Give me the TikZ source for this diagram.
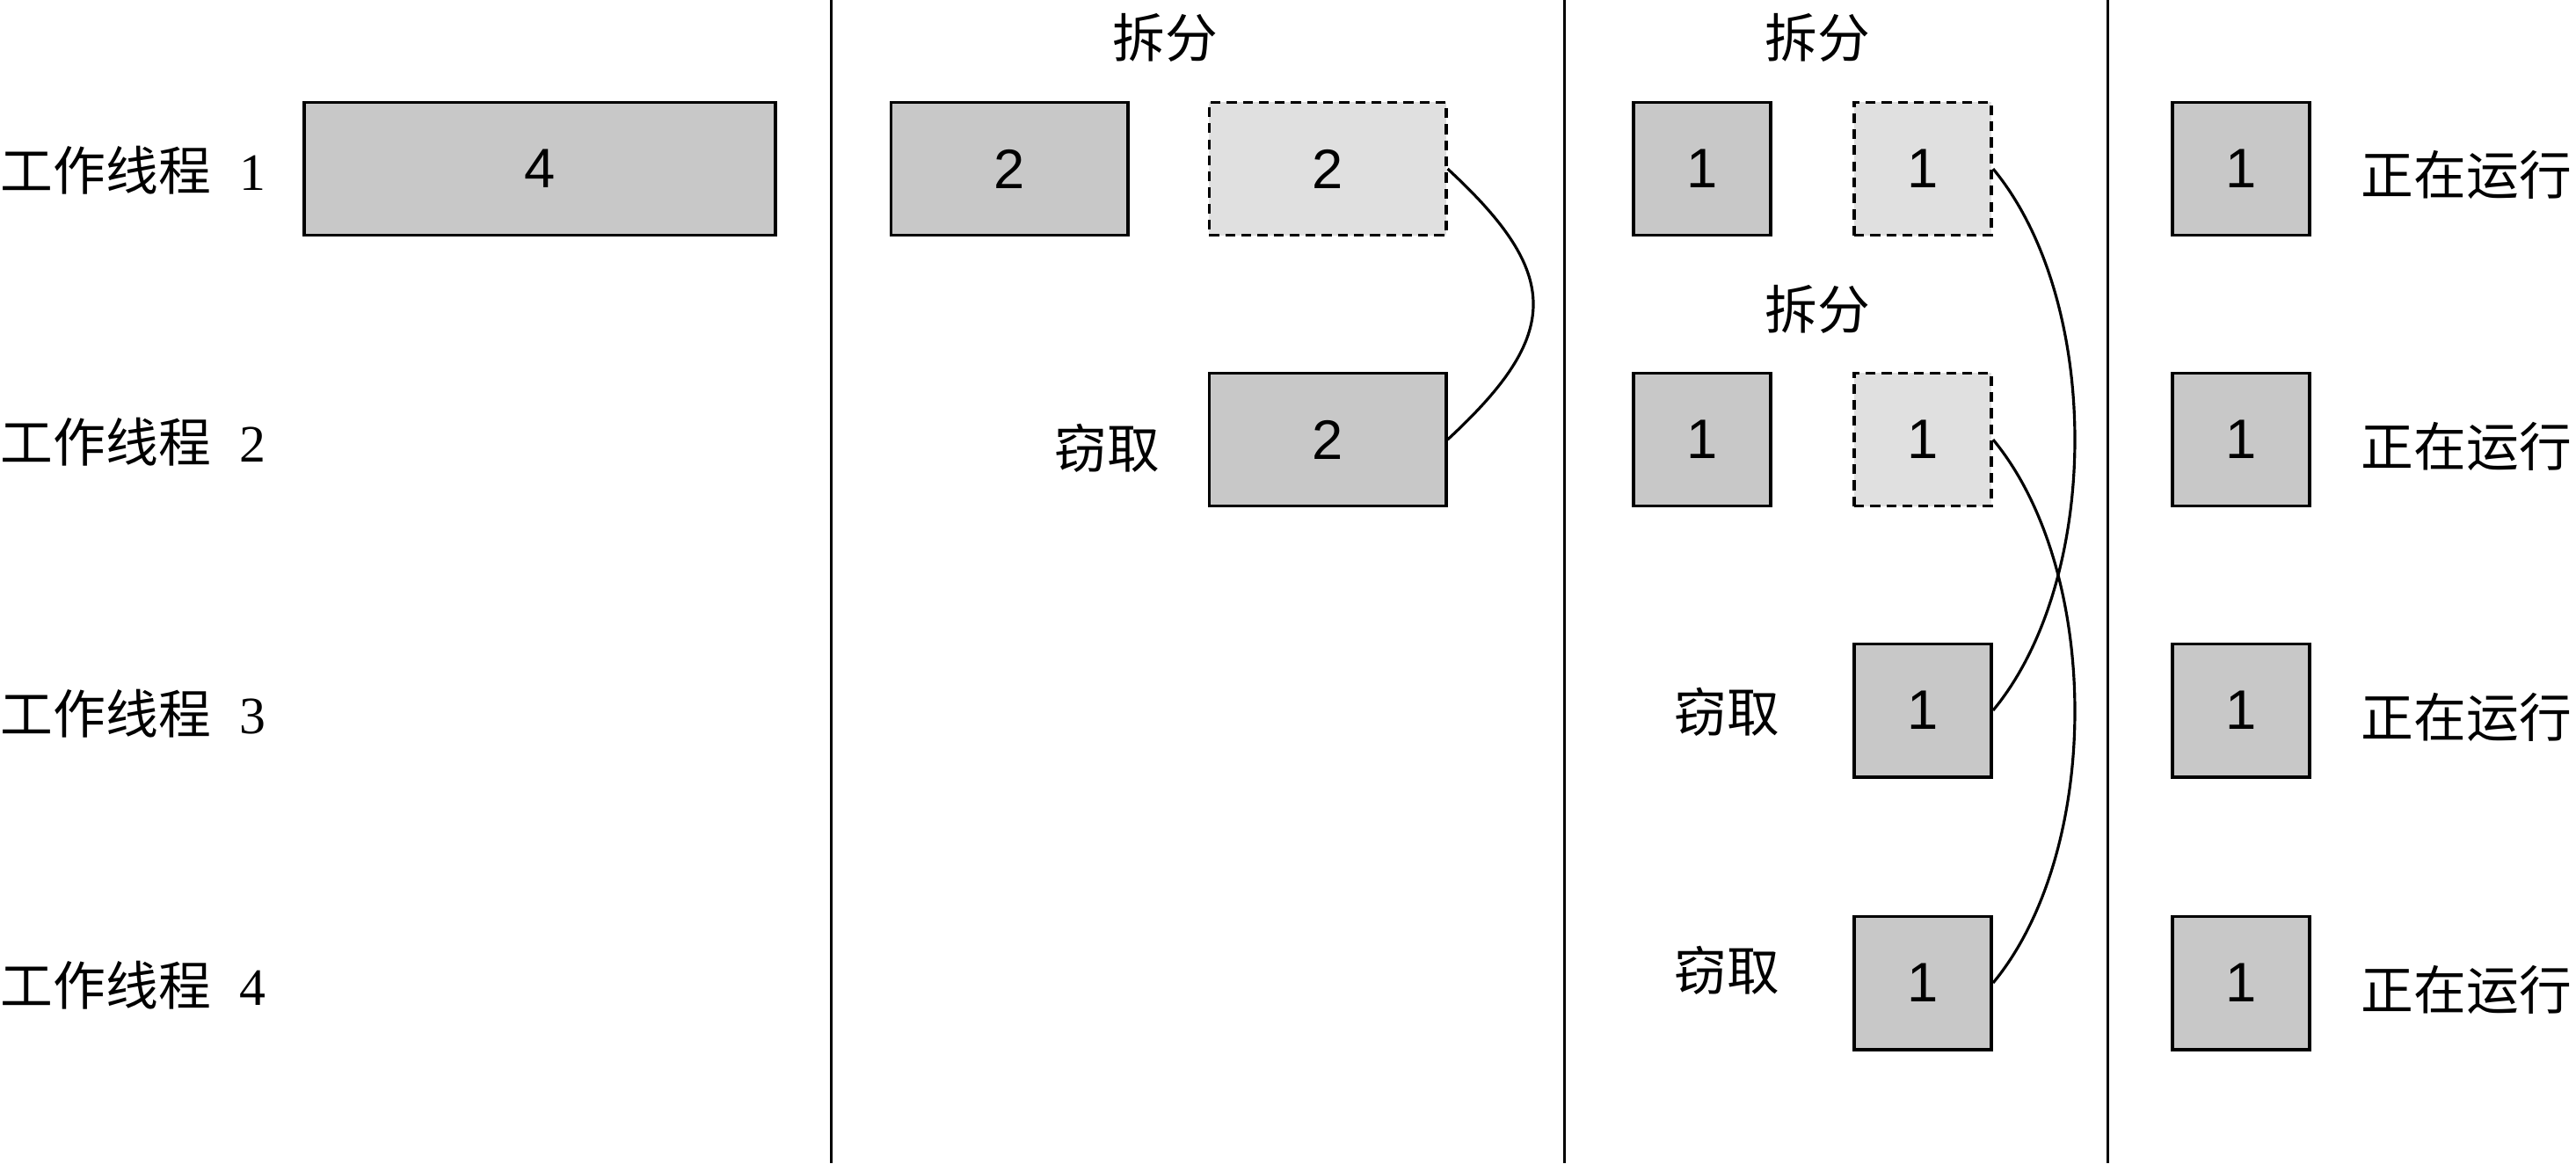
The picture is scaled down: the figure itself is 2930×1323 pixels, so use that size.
\documentclass[tikz,border=0pt]{standalone}
\usepackage{fontspec}
\setmainfont{Noto Sans CJK SC}
\newfontfamily\numfont{Liberation Sans}
\newfontfamily\sernum{Liberation Serif}
\definecolor{boxgray}{HTML}{C8C8C8}
\definecolor{lightgray}{HTML}{E0E0E0}
\newcommand{\wlabel}[1]{工作线程\hspace{0.55em}{\sernum #1}}
\begin{document}
\begin{tikzpicture}[x=0.01cm,y=-0.01cm,
  task/.style={draw, line width=1.1pt, fill=boxgray, inner sep=0pt,
    minimum height=1.51cm, font=\numfont\fontsize{18}{21}\selectfont},
  split/.style={task, fill=lightgray, dash pattern=on 3.2pt off 2pt},
  wide/.style={minimum width=5.36cm},
  mid/.style={minimum width=2.69cm},
  small/.style={minimum width=1.56cm},
  lbl/.style={inner sep=0pt, font=\fontsize{17}{20}\selectfont},
  conn/.style={line width=0.9pt},
  sep/.style={line width=0.85pt}]
\useasboundingbox (0,0) rectangle (2930,1323);

% separators
\coordinate (s1t) at (945,0);   \coordinate (s1b) at (945,1323);
\coordinate (s2t) at (1779,0);  \coordinate (s2b) at (1779,1323);
\coordinate (s3t) at (2397,0);  \coordinate (s3b) at (2397,1323);
\draw[sep] (s1t) -- (s1b);
\draw[sep] (s2t) -- (s2b);
\draw[sep] (s3t) -- (s3b);

% row labels
\node[lbl, anchor=west] (w1) at (0,194) {\wlabel{1}};
\node[lbl, anchor=west] (w2) at (0,503) {\wlabel{2}};
\node[lbl, anchor=west] (w3) at (0,812) {\wlabel{3}};
\node[lbl, anchor=west] (w4) at (0,1121) {\wlabel{4}};

% column 1
\node[task, wide] (a1) at (614,192) {4};

% column 2
\node[lbl] (sp2) at (1325,43) {拆分};
\node[task, mid] (b1) at (1148,192) {2};
\node[split, mid] (b2) at (1510,192) {2};
\node[task, mid] (b3) at (1510,500) {2};
\node[lbl] (st2) at (1259,510) {窃取};
\draw[conn] (b2.east) .. controls +(130,120) and +(130,-120) .. (b3.east);

% column 3
\node[lbl] (sp3a) at (2067,43) {拆分};
\node[lbl] (sp3b) at (2067,352) {拆分};
\node[task, small] (c11) at (1936,192) {1};
\node[split, small] (c12) at (2187,192) {1};
\node[task, small] (c21) at (1936,500) {1};
\node[split, small] (c22) at (2187,500) {1};
\node[task, small] (c3) at (2187,808) {1};
\node[task, small] (c4) at (2187,1118) {1};
\node[lbl] (st3a) at (1964,810) {窃取};
\node[lbl] (st3b) at (1964,1104) {窃取};
\draw[conn] (c12.east) .. controls +(124,150) and +(124,-150) .. (c3.east);
\draw[conn] (c22.east) .. controls +(124,150) and +(124,-150) .. (c4.east);

% column 4
\node[task, small] (d1) at (2549,192) {1};
\node[task, small] (d2) at (2549,500) {1};
\node[task, small] (d3) at (2549,808) {1};
\node[task, small] (d4) at (2549,1118) {1};
\node[lbl, anchor=west] (r1) at (2685,199) {正在运行};
\node[lbl, anchor=west] (r2) at (2685,508) {正在运行};
\node[lbl, anchor=west] (r3) at (2685,816) {正在运行};
\node[lbl, anchor=west] (r4) at (2685,1126) {正在运行};
\end{tikzpicture}
\end{document}
